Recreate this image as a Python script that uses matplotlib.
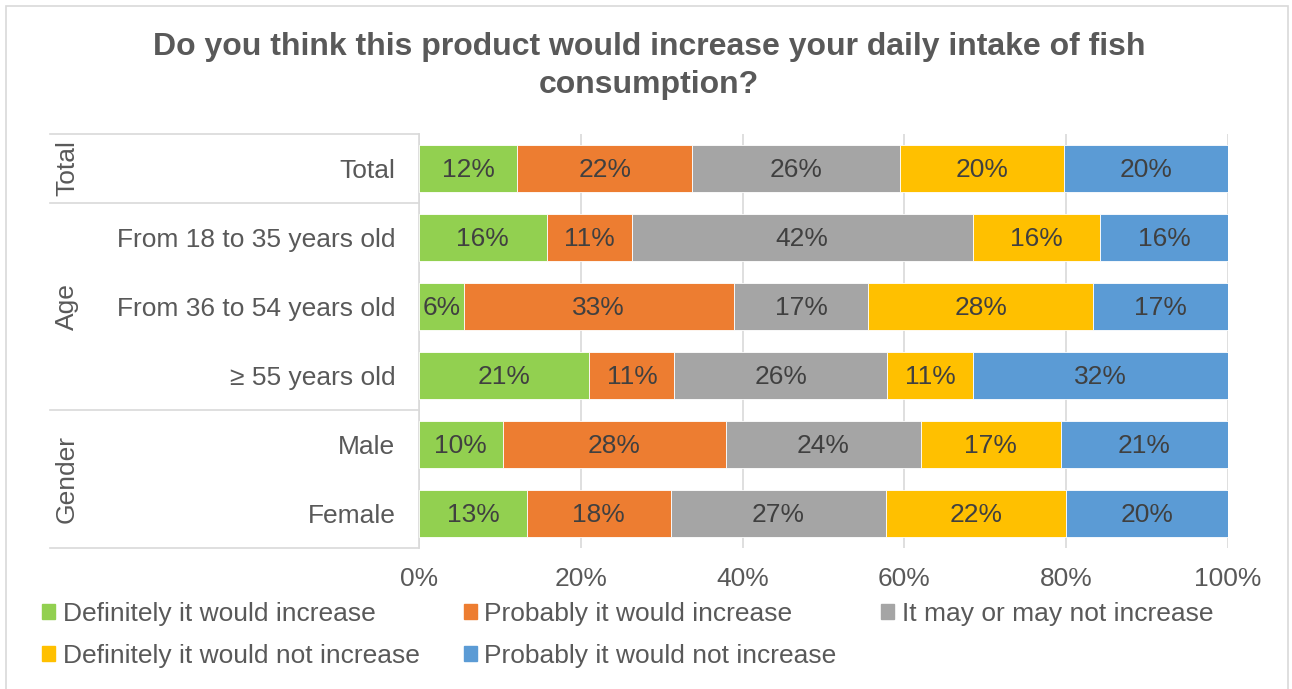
import matplotlib.pyplot as plt
import matplotlib.patches as mpatches
import numpy as np

plt.rcParams['font.family'] = ['Liberation Sans', 'DejaVu Sans']

title = "Do you think this product would increase your daily intake of fish\nconsumption?"
rows = ['Total', 'From 18 to 35 years old', 'From 36 to 54 years old',
        '\u2265 55 years old', 'Male', 'Female']
groups = ['Total', 'Age', 'Gender']
group_sizes = [1, 3, 2]
answers = ['Definitely it would increase', 'Probably it would increase',
           'It may or may not increase', 'Definitely it would not increase',
           'Probably it would not increase']
colors = ['#92D050', '#ED7D31', '#A5A5A5', '#FFC000', '#5B9BD5']

# share of respondents (%) per row, one list per answer
definitely_inc = [12.16, 15.79, 5.56, 21.05, 10.34, 13.33]
probably_inc = [21.62, 10.53, 33.33, 10.53, 27.59, 17.78]
maybe = [25.68, 42.11, 16.67, 26.32, 24.14, 26.67]
definitely_not = [20.27, 15.79, 27.78, 10.53, 17.24, 22.22]
probably_not = [20.27, 15.79, 16.67, 31.58, 20.69, 20.00]
series = [definitely_inc, probably_inc, maybe, definitely_not, probably_not]

W, H = 1292, 689
fig = plt.figure(figsize=(W / 100, H / 100), dpi=100)
ax = fig.add_axes([419 / W, 1 - 548 / H, 809 / W, 414 / H])

txt = '#595959'
grid = '#D9D9D9'
y = np.arange(len(rows))
left = np.zeros(len(rows))
for vals, c in zip(series, colors):
    vals = np.array(vals)
    ax.barh(y, vals, left=left, height=0.667, color=c, edgecolor='white',
            linewidth=0.6, zorder=3)
    for yi, l, v in zip(y, left, vals):
        ax.text(l + v / 2, yi + 0.02, f"{v:.0f}%", ha='center', va='center',
                fontsize=19, color='#404040', zorder=4)
    left += vals

ax.set_xlim(0, 100)
ax.set_ylim(len(rows) - 0.5, -0.5)
ax.set_xticks(np.arange(0, 101, 20))
ax.set_xticklabels([f"{t}%" for t in range(0, 101, 20)])
ax.set_yticks(y)
ax.set_yticklabels(rows)
ax.tick_params(axis='x', length=0, pad=14, labelsize=19, labelcolor=txt)
ax.tick_params(axis='y', length=0, pad=17, labelsize=19, labelcolor=txt)
ax.grid(axis='x', color=grid, linewidth=1.2, zorder=0)
for s in ['top', 'right', 'bottom']:
    ax.spines[s].set_visible(False)
ax.spines['left'].set_color(grid)
ax.spines['left'].set_linewidth(1.2)

# multi-level category axis: group names and separators
tr = ax.get_yaxis_transform()
x_sep = (50 - 419) / 809
x_grp = (67 - 419) / 809
edges = np.concatenate([[0], np.cumsum(group_sizes)]) - 0.5
for e in edges:
    ax.plot([x_sep, 0], [e, e], color=grid, linewidth=1.2, transform=tr,
            clip_on=False)
for g, a, b in zip(groups, edges[:-1], edges[1:]):
    ax.text(x_grp, (a + b) / 2, g, rotation=90, ha='center', va='center',
            fontsize=19, color=txt, transform=tr)

fig.text(0.5 + 3 / W, 1 - 66 / H, title, ha='center', va='center', fontsize=23,
         fontweight='bold', color=txt, linespacing=1.38)

handles = [mpatches.Patch(color=c, label=a) for a, c in zip(answers, colors)]
order = [0, 3, 1, 4, 2]
fig.legend([handles[i] for i in order], [answers[i] for i in order],
           loc='upper left', bbox_to_anchor=(42 / W, 1 - 602 / H), ncol=3,
           frameon=False, fontsize=19, labelcolor=txt, handlelength=0.5,
           handleheight=0.5, handletextpad=0.28, columnspacing=1.68,
           labelspacing=0.68, borderpad=0, borderaxespad=0)

fig.patches.append(mpatches.Rectangle((6 / W, -0.01), 1282 / W, 1 - 6 / H + 0.01,
                                      transform=fig.transFigure, fill=False,
                                      edgecolor=grid, linewidth=1.2))

fig.savefig('out.png', dpi=100)
